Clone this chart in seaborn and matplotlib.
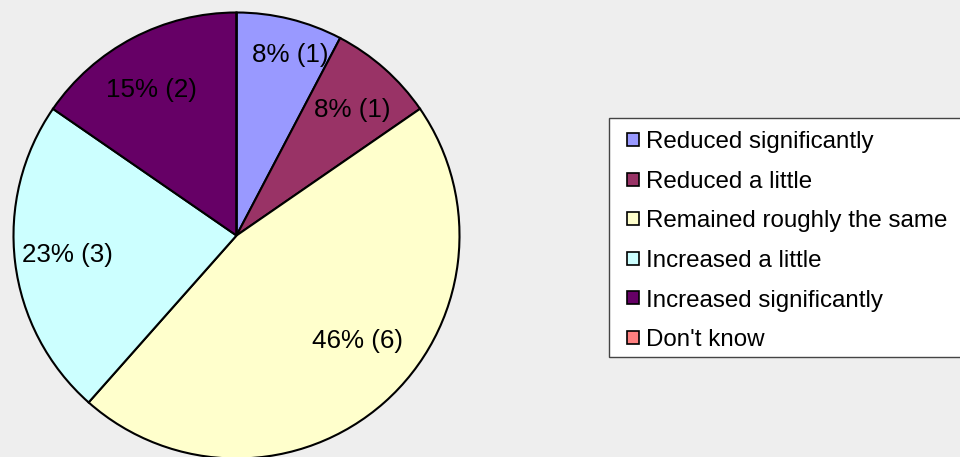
import numpy as np
import seaborn as sns
import matplotlib
matplotlib.use("Agg")
import matplotlib.pyplot as plt
from matplotlib.patches import Patch, Rectangle

categories = ["Reduced significantly", "Reduced a little", "Remained roughly the same",
              "Increased a little", "Increased significantly", "Don't know"]
counts = [1, 1, 6, 3, 2, 0]
colors = ["#9999FF", "#993366", "#FFFFCC", "#CCFFFF", "#660066", "#FF8080"]

sns.set_theme(style="white")
plt.rcParams["font.family"] = ["Liberation Sans", "DejaVu Sans"]

W, H = 960, 457
fig = plt.figure(figsize=(W / 100, H / 100), dpi=100)
fig.patch.set_facecolor("#EEEEEE")

# pie axes, placed in pixel terms
cx, cy, r = 236.5, 235.5, 223
ax = fig.add_axes([(cx - r) / W, (H - cy - r) / H, 2 * r / W, 2 * r / H])
ax.set_facecolor("none")

total = sum(counts)


def fmt(p):
    n = int(round(p * total / 100))
    return f"{p:.0f}% ({n})" if n > 0 else ""


wedges, texts, autotexts = ax.pie(
    counts, colors=colors, startangle=90, counterclock=False,
    autopct=fmt, pctdistance=0.78,
    wedgeprops=dict(edgecolor="black", linewidth=1.5),
    textprops=dict(fontsize=18.7, color="black"),
)
for w in wedges:
    w.set_clip_on(False)

# label placement tweaks (radial distance, angular shift in degrees)
dist = [0.853, 0.774, 0.714, 0.76, 0.767, 0.78]
shift = [-2.5, -0.7, 8.0, -1.0, 2.3, 0.0]
for w, t, d, s in zip(wedges, autotexts, dist, shift):
    ang = np.deg2rad((w.theta1 + w.theta2) / 2 + s)
    t.set_position((d * np.cos(ang), d * np.sin(ang) - 0.011))

ax.set_xlim(-1, 1)
ax.set_ylim(-1, 1)
ax.set_aspect("equal")
ax.axis("off")

# legend box
fig.add_artist(Rectangle((609 / W, 1 - 357 / H), 380 / W, 239 / H,
                         transform=fig.transFigure, facecolor="white",
                         edgecolor="#444444", linewidth=1.0, zorder=1))

handles = [Patch(facecolor=c, edgecolor="black", linewidth=1.2) for c in colors]
leg = fig.legend(
    handles, categories, loc="upper left",
    bbox_to_anchor=(627 / W, 1 - 131 / H), borderaxespad=0, borderpad=0,
    fontsize=17.4, frameon=False,
    handlelength=0.5, handleheight=0.45, handletextpad=0.3,
    labelspacing=0.73, labelcolor="black",
)
leg.set_zorder(5)

fig.savefig("out.png", dpi=100, facecolor=fig.get_facecolor())
